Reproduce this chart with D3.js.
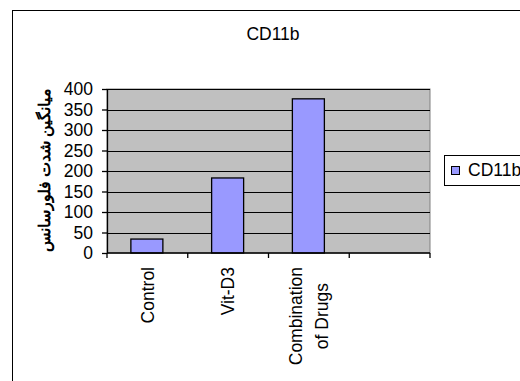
<!DOCTYPE html>
<html><head><meta charset="utf-8">
<script src="https://cdn.jsdelivr.net/npm/d3@7"></script>
<style>body{margin:0;background:#fff}svg{display:block}text{font-family:"Liberation Sans",Arial,sans-serif}</style>
</head><body><svg id="c" width="520" height="381"></svg>
<script>
const categories = [["Control"], ["Vit-D3"], ["Combination", "of Drugs"], [""]];
const values = [34, 183, 376, null];
const yTicks = [0, 50, 100, 150, 200, 250, 300, 350, 400];
const title = "CD11b";
const seriesName = "CD11b";
const yTitle = "میانگین شدت فلورسانس";

const svg = d3.select("#c");
const FS = 17.5;
// outer frame
svg.append("rect").attr("x", 12.5).attr("y", 10.5).attr("width", 540).attr("height", 400)
  .attr("fill", "#fff").attr("stroke", "#000").attr("stroke-width", 1);

const L = 107, R = 430, T = 89, B = 253;
const x = d3.scaleBand().domain(d3.range(categories.length)).range([L, R]).paddingInner(0).paddingOuter(0);
const y = d3.scaleLinear().domain([0, 400]).range([B, T]);

svg.append("rect").attr("x", L).attr("y", T).attr("width", R - L).attr("height", B - T)
  .attr("fill", "#c0c0c0").attr("stroke", "#808080").attr("stroke-width", 1);

svg.append("g").selectAll("line").data(yTicks.filter(d => d > 0)).join("line")
  .attr("x1", L).attr("x2", R).attr("y1", d => Math.round(y(d)) + 0.5).attr("y2", d => Math.round(y(d)) + 0.5)
  .attr("stroke", "#000").attr("stroke-width", 1);

const bw = 32;
svg.append("g").selectAll("rect").data(values.map((v, i) => ({v, i})).filter(d => d.v != null)).join("rect")
  .attr("x", d => x(d.i) + (x.bandwidth() - bw) / 2 - 0.5)
  .attr("y", d => y(d.v))
  .attr("width", bw).attr("height", d => B - y(d.v))
  .attr("fill", "#9999ff").attr("stroke", "#000").attr("stroke-width", 1.3);

// y axis
const yAxis = svg.append("g").attr("transform", `translate(${L},0)`)
  .call(d3.axisLeft(y).tickValues(yTicks).tickSize(5).tickPadding(9).tickSizeOuter(0));
yAxis.select(".domain").attr("stroke", "#000").attr("stroke-width", 1.3);
yAxis.selectAll(".tick line").attr("stroke", "#000").attr("stroke-width", 1.3);
yAxis.selectAll("text").attr("font-size", FS).attr("fill", "#000").attr("font-family", "Liberation Sans, Arial, sans-serif");

// x axis
const xAxisLine = svg.append("g").attr("transform", `translate(0,${B})`);
xAxisLine.append("line").attr("x1", L).attr("x2", R).attr("stroke", "#000").attr("stroke-width", 1.3);
const edges = d3.range(categories.length + 1).map(i => L + i * x.step());
xAxisLine.selectAll(".tk").data(edges).join("line").attr("class", "tk")
  .attr("x1", d => d).attr("x2", d => d).attr("y1", 0).attr("y2", 5)
  .attr("stroke", "#000").attr("stroke-width", 1.3);

// x labels rotated
const lh = 26;
categories.forEach((lines, i) => {
  const g = svg.append("g");
  const cx = x(i) + x.bandwidth() / 2;
  const texts = lines.map((ln, j) => g.append("text").text(ln).attr("font-size", FS));
  const maxW = d3.max(texts, t => t.node().getComputedTextLength()) || 0;
  const top = 267;
  const n = lines.length;
  texts.forEach((t, j) => {
    const dx = cx + (j - (n - 1) / 2) * lh + FS * 0.36;
    const cy = top + maxW / 2;
    t.attr("text-anchor", "middle").attr("transform", `translate(${dx},${cy}) rotate(-90)`);
  });
});

// title
svg.append("text").attr("x", 273).attr("y", 40).attr("text-anchor", "middle")
  .attr("font-size", FS).text(title);

// y title
svg.append("text").attr("transform", `translate(50,170) rotate(-90)`).attr("text-anchor", "middle")
  .attr("font-size", 15.7).attr("font-weight", "bold").attr("direction", "rtl")
  .attr("font-family", "DejaVu Sans, sans-serif").text(yTitle);

// legend
svg.append("rect").attr("x", 444.5).attr("y", 155.5).attr("width", 100).attr("height", 30)
  .attr("fill", "#fff").attr("stroke", "#000").attr("stroke-width", 1);
svg.append("rect").attr("x", 451.5).attr("y", 166.5).attr("width", 8).attr("height", 8)
  .attr("fill", "#9999ff").attr("stroke", "#000").attr("stroke-width", 1);
svg.append("text").attr("x", 468).attr("y", 176).attr("font-size", FS).text(seriesName);
</script></body></html>
